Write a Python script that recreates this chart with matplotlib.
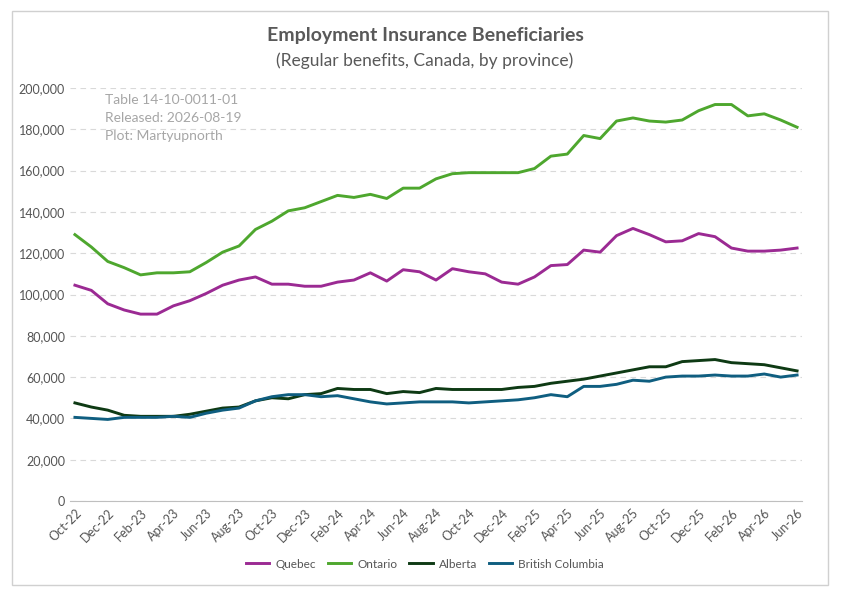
import matplotlib
matplotlib.use("Agg")
import matplotlib.pyplot as plt
from matplotlib.patches import Rectangle
from matplotlib.ticker import FuncFormatter

plt.rcParams['font.family'] = ['Lato', 'DejaVu Sans']

months = ["Oct-22","Nov-22","Dec-22","Jan-23","Feb-23","Mar-23","Apr-23","May-23","Jun-23","Jul-23","Aug-23","Sep-23",
          "Oct-23","Nov-23","Dec-23","Jan-24","Feb-24","Mar-24","Apr-24","May-24","Jun-24","Jul-24","Aug-24","Sep-24",
          "Oct-24","Nov-24","Dec-24","Jan-25","Feb-25","Mar-25","Apr-25","May-25","Jun-25","Jul-25","Aug-25","Sep-25",
          "Oct-25","Nov-25","Dec-25","Jan-26","Feb-26","Mar-26","Apr-26","May-26","Jun-26"]

quebec = [104.5,102,95.5,92.5,90.5,90.5,94.5,97,100.5,104.5,107,108.5,105,105,104,104,106,107,110.5,106.5,112,111,107,112.5,
          111,110,106,105,108.5,114,114.5,121.5,120.5,128.5,132,129,125.5,126,129.5,128,122.5,121,121,121.5,122.5]
ontario = [129,123,116,113,109.5,110.5,110.5,111,115.5,120.5,123.5,131.5,135.5,140.5,142,145,148,147,148.5,146.5,151.5,151.5,156,158.5,
           159,159,159,159,161,167,168,177,175.5,184,185.5,184,183.5,184.5,189,192,192,186.5,187.5,184.5,181]
alberta = [47.5,45.5,44,41.5,41,41,41,42,43.5,45,45.5,48.5,50,49.5,51.5,52,54.5,54,54,52,53,52.5,54.5,54,
           54,54,54,55,55.5,57,58,59,60.5,62,63.5,65,65,67.5,68,68.5,67,66.5,66,64.5,63]
bc = [40.5,40,39.5,40.5,40.5,40.5,41,40.5,42.5,44,45,48.5,50.5,51.5,51.5,50.5,51,49.5,48,47,47.5,48,48,48,
      47.5,48,48.5,49,50,51.5,50.5,55.5,55.5,56.5,58.5,58,60,60.5,60.5,61,60.5,60.5,61.5,60,61]

series = [("Quebec", quebec, "#9B2A93"), ("Ontario", ontario, "#4EA72E"),
          ("Alberta", alberta, "#0E3A14"), ("British Columbia", bc, "#0F5E80")]

fig = plt.figure(figsize=(8.5, 5.95), dpi=100)
fig.patches.append(Rectangle((12/850, 10/595), 816/850, 574/595, transform=fig.transFigure,
                             fill=False, edgecolor="#D0D0D0", linewidth=1))
ax = fig.add_axes([70/850, 94/595, 732/850, 413/595])
x = list(range(len(months)))
for name, vals, col in series:
    ax.plot(x, [v * 1000 for v in vals], color=col, linewidth=2.1, label=name)

ax.set_ylim(0, 200000)
ax.set_yticks(range(0, 200001, 20000))
ax.yaxis.set_major_formatter(FuncFormatter(lambda v, p: f"{int(v):,}"))
ax.set_xlim(-0.3, len(months) - 0.7)
ax.set_xticks(x[::2])
ax.set_xticklabels(months[::2], rotation=45, ha="right", rotation_mode="anchor")
ax.tick_params(axis="both", length=0, labelsize=9, colors="#555555")
ax.tick_params(axis="x", pad=4)
ax.grid(axis="y", color="#D9D9D9", linestyle=(0, (5, 4)), linewidth=0.8)
ax.set_axisbelow(True)
for s in ["top", "right", "left"]:
    ax.spines[s].set_visible(False)
ax.spines["bottom"].set_color("#BFBFBF")

fig.text(0.5, 1 - 36/595, "Employment Insurance Beneficiaries", ha="center", va="center",
         fontsize=14, fontweight="bold", color="#595959")
fig.text(0.5, 1 - 61/595, "(Regular benefits, Canada, by province)", ha="center", va="center",
         fontsize=12.5, color="#595959")
for i, t in enumerate(["Table 14-10-0011-01", "Released: 2026-08-19", "Plot: Martyupnorth"]):
    fig.text(105/850, 1 - (100 + 18*i)/595, t, ha="left", va="center", fontsize=10, color="#A6A6A6")

fig.legend(loc="center", bbox_to_anchor=(0.5, 1 - 564/595), ncol=4, frameon=False,
           fontsize=8.5, handlelength=2.0, handletextpad=0.5, columnspacing=1.0, labelcolor="#555555")

fig.savefig("out.png", dpi=100)
